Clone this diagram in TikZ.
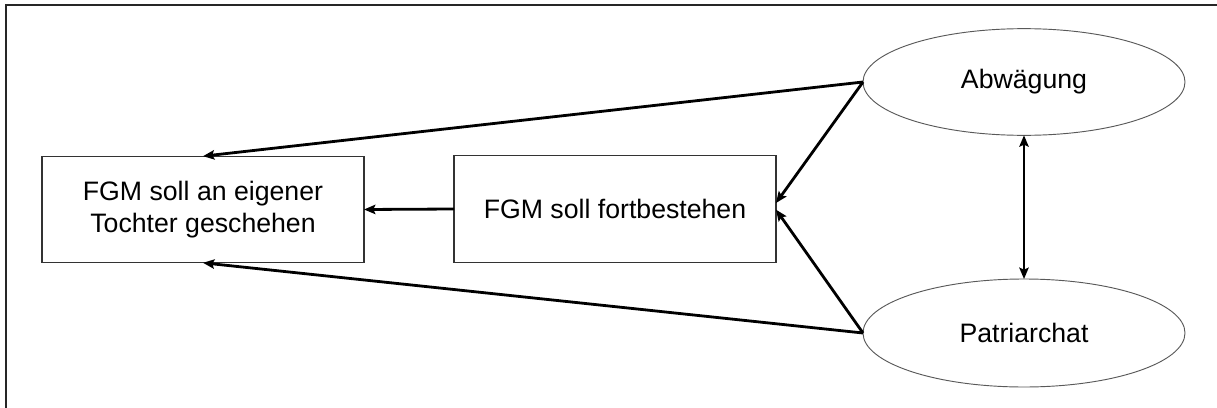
\documentclass[tikz,border=0pt]{standalone}
\usepackage{fontspec}
\setmainfont{Liberation Sans}
\usetikzlibrary{shapes.geometric,arrows.meta}

\begin{document}
\begin{tikzpicture}[x=0.75pt, y=-0.75pt,
    box/.style={draw=black!80, line width=0.8pt, minimum width=241.5pt, minimum height=80pt,
        inner sep=0pt, outer sep=0pt, align=center, font=\fontsize{20}{24}\selectfont},
    oval/.style={ellipse, draw=black!65, line width=0.7pt, minimum width=241.5pt, minimum height=80pt,
        inner sep=0pt, outer sep=0pt, font=\fontsize{20}{24}\selectfont},
    arr/.style={-{Stealth[length=8.5pt, width=7pt, inset=1.5pt]}, line width=2.1pt}]
    % Page size and outer frame
    \clip (0,0) rectangle (1217,407);
    \draw[line width=1.6pt, black!85] (6,5) rectangle (1240,430);

    % Draw boxes
    \node[box] (tochter) at (203,209.5) {FGM soll an eigener\\Tochter geschehen};
    \node[box] (fort) at (615,209) {FGM soll fortbestehen};

    % Draw ovals
    \node[oval] (abw) at (1024,82) {Abw\"agung};
    \node[oval, minimum height=81pt] (patri) at (1024,333) {Patriarchat};

    % Draw arrows
    \draw[arr] (abw.west) -- (tochter.north);
    \draw[arr] (abw.west) -- ([yshift=4.5pt]fort.east);
    \draw[arr] (patri.west) -- ([yshift=-0.5pt]fort.east);
    \draw[arr] (patri.west) -- (tochter.south);
    \draw[arr] (fort.west) -- (tochter.east);
    \draw[arr, {Stealth[length=8.5pt, width=7pt, inset=1.5pt]}-{Stealth[length=8.5pt, width=7pt, inset=1.5pt]}]
        (abw.south) -- (patri.north);
\end{tikzpicture}
\end{document}
